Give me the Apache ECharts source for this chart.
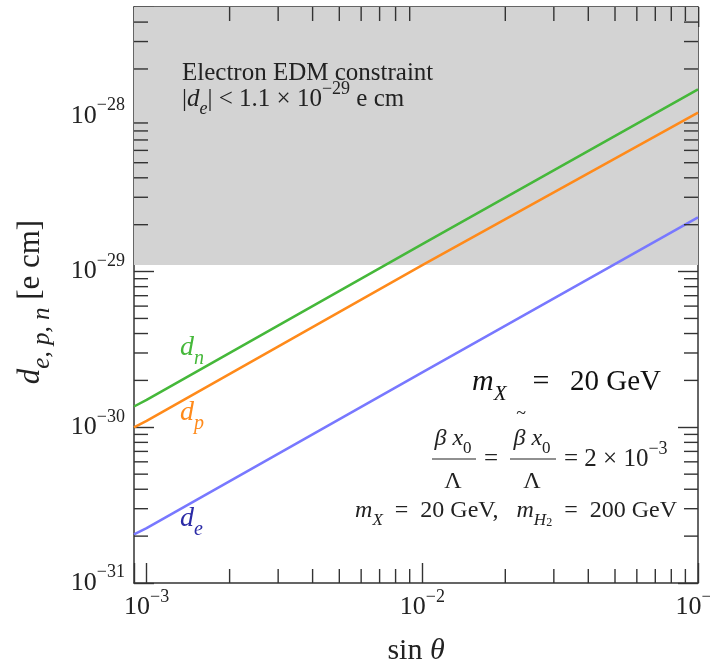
<!DOCTYPE html>
<html>
<head>
<meta charset="utf-8">
<script src="https://cdn.jsdelivr.net/npm/echarts@6/dist/echarts.min.js"></script>
<style>
  html, body { margin: 0; padding: 0; background: #fff; }
  #edmChart { width: 710px; height: 668px; }
</style>
</head>
<body>
<div id="edmChart"></div>
<script>
  // EDM values are kept in units of 1e-30 e cm (ECharts log ticks round tiny numbers to 0)
  const Y_EXP = -30
  let sinTheta = [0.0009, 0.001, 0.01, 0.1]
  let dn = [1.36, 1.5, 15, 148]
  let dp = [1.0, 1.1, 11, 105]
  let de = [0.205, 0.225, 2.25, 22.3]
  let edmLimit = 11 // |d_e| < 1.1e-29 e cm, shaded above

  let xRange = [0.0009, 0.1]
  let yRange = [0.1, 500]
  let xMinorTicks = [0.002, 0.003, 0.004, 0.005, 0.006, 0.007, 0.008, 0.009,
    0.02, 0.03, 0.04, 0.05, 0.06, 0.07, 0.08, 0.09]
  let yMinorTicks = [0.2, 0.3, 0.4, 0.5, 0.6, 0.7, 0.8, 0.9,
    2, 3, 4, 5, 6, 7, 8, 9,
    20, 30, 40, 50, 60, 70, 80, 90,
    200, 300, 400]

  const SERIF = 'Liberation Serif'
  const FRAME = '#333'
  const colors = { n: '#45b83a', p: '#ff8a1a', e: '#7878ff', eText: '#2b2ba6' }

  // rich text set: t normal, i italic, sup / sub scripts, ssub second-level sub
  function richStyles(f, color, subRatio) {
    let base = { fontFamily: SERIF, fill: color, color: color }
    let sr = subRatio || 0.7
    return {
      t: Object.assign({ fontSize: f, lineHeight: Math.round(f * 1.5), verticalAlign: 'middle' }, base),
      i: Object.assign({ fontSize: f, lineHeight: Math.round(f * 1.5), verticalAlign: 'middle', fontStyle: 'italic' }, base),
      sup: Object.assign({ fontSize: Math.round(f * 0.7), lineHeight: Math.round(f * 0.95), verticalAlign: 'top' }, base),
      sub: Object.assign({ fontSize: Math.round(f * sr), lineHeight: Math.round(f * 0.82), verticalAlign: 'bottom' }, base),
      isub: Object.assign({ fontSize: Math.round(f * sr), lineHeight: Math.round(f * 0.82), verticalAlign: 'bottom', fontStyle: 'italic' }, base),
      ssub: Object.assign({ fontSize: Math.round(f * 0.5), lineHeight: Math.round(f * 0.45), verticalAlign: 'bottom' }, base)
    }
  }

  function powerLabel(shift) {
    return value => {
      let e = Math.log10(value)
      let k = Math.round(e)
      if (Math.abs(e - k) > 1e-6) return ''
      return '{t|10}{sup|−' + Math.abs(k + shift) + '}'
    }
  }

  function pairs(ys) {
    return sinTheta.map((s, i) => [s, ys[i]])
  }

  let tickStyle = { color: FRAME, width: 1.4 }
  let lineAxis = { show: true, onZero: false, lineStyle: { color: FRAME, width: 1.5 } }

  function xAxisOf(pos, withLabels) {
    return {
      type: 'log',
      position: pos,
      min: xRange[0],
      max: xRange[1],
      axisLine: lineAxis,
      axisTick: { show: true, inside: true, length: 20, lineStyle: tickStyle },
      axisLabel: {
        show: withLabels,
        margin: 5,
        formatter: powerLabel(0),
        rich: richStyles(26, '#222')
      },
      splitLine: { show: false },
      name: withLabels ? '{t|sin }{i|θ}' : '',
      nameLocation: 'middle',
      nameGap: 46,
      nameTextStyle: { rich: richStyles(30, '#222') }
    }
  }

  function yAxisOf(pos, withLabels) {
    return {
      type: 'log',
      position: pos,
      min: yRange[0],
      max: yRange[1],
      axisLine: lineAxis,
      axisTick: { show: true, inside: true, length: 20, lineStyle: tickStyle },
      axisLabel: {
        show: withLabels,
        margin: 9,
        formatter: powerLabel(Y_EXP),
        rich: richStyles(26, '#222')
      },
      splitLine: { show: false }
    }
  }

  function lineSeries(name, ys, color) {
    return {
      name: name,
      type: 'line',
      data: pairs(ys),
      showSymbol: false,
      silent: true,
      z: 4,
      lineStyle: { color: color, width: 2.5 }
    }
  }

  function label(x, y, text, size, color, align, extra) {
    return Object.assign({
      type: 'text', x: x, y: y, z: 10,
      style: { text: text, rich: richStyles(size, color), align: align || 'left', verticalAlign: 'middle' }
    }, extra || {})
  }

  let option = {
    animation: false,
    backgroundColor: '#fff',
    textStyle: { fontFamily: SERIF },
    grid: { left: 134, right: 12, top: 7, bottom: 85, containLabel: false, outerBoundsMode: 'none' },
    xAxis: [xAxisOf('bottom', true), xAxisOf('top', false)],
    yAxis: [yAxisOf('left', true), yAxisOf('right', false)],
    series: [
      {
        name: 'constraint',
        type: 'line',
        data: [[xRange[0], edmLimit], [xRange[1], edmLimit]],
        showSymbol: false,
        silent: true,
        z: 1,
        lineStyle: { width: 0, opacity: 0 },
        markArea: {
          silent: true,
          itemStyle: { color: '#d3d3d3' },
          data: [[{ yAxis: edmLimit }, { yAxis: yRange[1] }]]
        }
      },
      lineSeries('d_n', dn, colors.n),
      lineSeries('d_p', dp, colors.p),
      lineSeries('d_e', de, colors.e),
      {
        name: 'xMinor',
        type: 'custom',
        silent: true,
        z: 6,
        data: xMinorTicks.map(v => [v, yRange[0]]),
        renderItem: (params, api) => {
          let b = api.coord([api.value(0), yRange[0]])
          let t = api.coord([api.value(0), yRange[1]])
          let st = { stroke: FRAME, lineWidth: 1.4 }
          return {
            type: 'group',
            children: [
              { type: 'line', shape: { x1: b[0], y1: b[1], x2: b[0], y2: b[1] - 14 }, style: st },
              { type: 'line', shape: { x1: t[0], y1: t[1], x2: t[0], y2: t[1] + 14 }, style: st }
            ]
          }
        }
      },
      {
        name: 'yMinor',
        type: 'custom',
        silent: true,
        z: 6,
        data: yMinorTicks.map(v => [xRange[0], v]),
        renderItem: (params, api) => {
          let l = api.coord([xRange[0], api.value(1)])
          let r = api.coord([xRange[1], api.value(1)])
          let st = { stroke: FRAME, lineWidth: 1.4 }
          return {
            type: 'group',
            children: [
              { type: 'line', shape: { x1: l[0], y1: l[1], x2: l[0] + 14, y2: l[1] }, style: st },
              { type: 'line', shape: { x1: r[0], y1: r[1], x2: r[0] - 14, y2: r[1] }, style: st }
            ]
          }
        }
      }
    ],
    graphic: [
      // y axis title
      {
        type: 'text', x: 31, y: 302, z: 10, rotation: Math.PI / 2,
        style: { text: '{i|d}{isub|e, p, n}{t| [e cm]}', rich: richStyles(31, '#222', 0.8), align: 'center', verticalAlign: 'middle' }
      },
      label(182, 73, '{t|Electron EDM constraint}', 25, '#222'),
      label(182, 99, '{t||}{i|d}{isub|e}{t|| < 1.1 × 10}{sup|−29}{t| e cm}', 25, '#222'),
      label(180, 348, '{i|d}{isub|n}', 28, colors.n),
      label(180, 413, '{i|d}{isub|p}', 28, colors.p),
      label(180, 519, '{i|d}{isub|e}', 28, colors.eText),
      // m_X = 20 GeV
      label(472, 382, '{i|m}{isub|X}', 30, '#111'),
      label(541, 382, '{t|=}', 30, '#111', 'center'),
      label(661, 382, '{t|20 GeV}', 29, '#111', 'right'),
      // first fraction
      label(453, 439, '{i|β x}{sub|0}', 24, '#222', 'center'),
      { type: 'line', z: 10, shape: { x1: 432, y1: 459, x2: 476, y2: 459 }, style: { stroke: '#222', lineWidth: 1.2 } },
      label(453, 482, '{t|Λ}', 24, '#222', 'center'),
      label(491, 459, '{t|=}', 25, '#222', 'center'),
      // second fraction
      label(521, 414, '{t|~}', 18, '#222', 'center'),
      label(532, 439, '{i|β x}{sub|0}', 24, '#222', 'center'),
      { type: 'line', z: 10, shape: { x1: 510, y1: 459, x2: 556, y2: 459 }, style: { stroke: '#222', lineWidth: 1.2 } },
      label(532, 482, '{t|Λ}', 24, '#222', 'center'),
      label(564, 459, '{t|= 2 × 10}{sup|−3}', 25, '#222'),
      label(677, 511, '{i|m}{isub|X}{t|  =  20 GeV,   }{i|m}{isub|H}{ssub|2}{t|  =  200 GeV}', 24, '#222', 'right')
    ]
  }

  echarts.init(document.getElementById('edmChart')).setOption(option)
</script>
</body>
</html>
